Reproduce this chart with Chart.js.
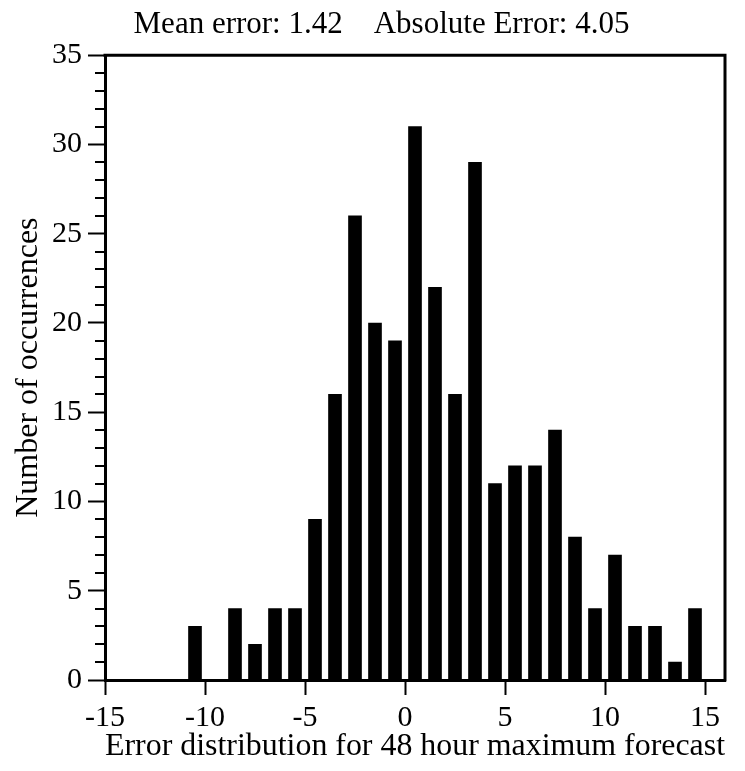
<!DOCTYPE html>
<html>
<head>
<meta charset="utf-8">
<script src="https://cdn.jsdelivr.net/npm/chart.js@4/dist/chart.umd.min.js"></script>
<style>
  html, body { margin: 0; padding: 0; background: #ffffff; }
  canvas { display: block; }
</style>
</head>
<body>
<canvas id="c" width="745" height="771"></canvas>
<script>
// ---- data ----
const chartTitle = 'Mean error: 1.42    Absolute Error: 4.05';
const xTitle = 'Error distribution for 48 hour maximum forecast';
const yTitle = 'Number of occurrences';
// lower edge of each one-unit error bin
const binStart = [-11, -9, -8, -7, -6, -5, -4, -3, -2, -1, 0, 1, 2, 3, 4, 5, 6, 7, 8, 9, 10, 11, 12, 13, 14];
const counts   = [  3,  4,  2,  4,  4,  9, 16, 26, 20, 19, 31, 22, 16, 29, 11, 12, 12, 14,  8,  4,  7,  3,  3,  1,  4];
const xTickValues = [-15, -10, -5, 0, 5, 10, 15];
const yTickValues = [0, 5, 10, 15, 20, 25, 30, 35];
const binWidth = 1;

const FONT = "'Liberation Serif', 'Times New Roman', serif";

const points = binStart.map((b, i) => ({ x: b + binWidth / 2, y: counts[i] }));

const frameAndMinor = {
  id: 'frameAndMinor',
  afterDraw(chart) {
    const { ctx, chartArea: a, scales } = chart;
    const ys = scales.y;
    ctx.save();
    ctx.strokeStyle = '#000';
    // minor y ticks every 1 unit
    ctx.lineWidth = 2;
    for (let v = ys.min; v <= ys.max; v += 1) {
      if (v % 5 === 0) continue;
      const py = Math.round(ys.getPixelForValue(v));
      ctx.beginPath();
      ctx.moveTo(a.left - 10, py);
      ctx.lineTo(a.left, py);
      ctx.stroke();
    }
    // top and right frame
    ctx.lineWidth = 3;
    ctx.beginPath();
    ctx.moveTo(a.left - 1.5, a.top);
    ctx.lineTo(a.right, a.top);
    ctx.lineTo(a.right, a.bottom + 1.5);
    ctx.stroke();
    ctx.restore();
  }
};

new Chart(document.getElementById('c'), {
  type: 'bar',
  data: {
    datasets: [{
      data: points,
      backgroundColor: '#000',
      borderWidth: 0,
      barThickness: 13,
      grouped: false
    }]
  },
  options: {
    responsive: false,
    animation: false,
    devicePixelRatio: 1,
    layout: { padding: { left: 38, right: 20, top: 0, bottom: 0 } },
    plugins: {
      legend: { display: false },
      tooltip: { enabled: false },
      title: {
        display: true,
        text: chartTitle,
        color: '#000',
        font: { family: FONT, size: 31, weight: 'normal' },
        padding: { top: 6, bottom: 12 }
      }
    },
    scales: {
      x: {
        type: 'linear',
        min: -15,
        max: 16,
        offset: false,
        afterBuildTicks(scale) { scale.ticks = xTickValues.map(v => ({ value: v })); },
        afterFit(scale) { scale.height = 91; },
        ticks: {
          color: '#000',
          font: { family: FONT, size: 30 },
          padding: 5,
          maxRotation: 0,
          autoSkip: false
        },
        grid: {
          display: true,
          offset: false,
          drawOnChartArea: false,
          drawTicks: true,
          tickLength: 15,
          tickWidth: 2,
          tickColor: '#000'
        },
        border: { display: true, color: '#000', width: 3 },
        title: {
          display: true,
          text: xTitle,
          color: '#000',
          font: { family: FONT, size: 32 },
          padding: { top: 0, bottom: 5 }
        }
      },
      y: {
        type: 'linear',
        min: 0,
        max: 35,
        afterBuildTicks(scale) { scale.ticks = yTickValues.map(v => ({ value: v })); },
        afterFit(scale) { scale.width = 67; },
        ticks: {
          color: '#000',
          font: { family: FONT, size: 30 },
          padding: 6
        },
        grid: {
          display: true,
          drawOnChartArea: false,
          drawTicks: true,
          tickLength: 17,
          tickWidth: 2,
          tickColor: '#000'
        },
        border: { display: true, color: '#000', width: 3 },
        title: {
          display: true,
          text: yTitle,
          color: '#000',
          font: { family: FONT, size: 32 },
          padding: { top: -29, bottom: 0 }
        }
      }
    }
  },
  plugins: [frameAndMinor]
});
</script>
</body>
</html>
